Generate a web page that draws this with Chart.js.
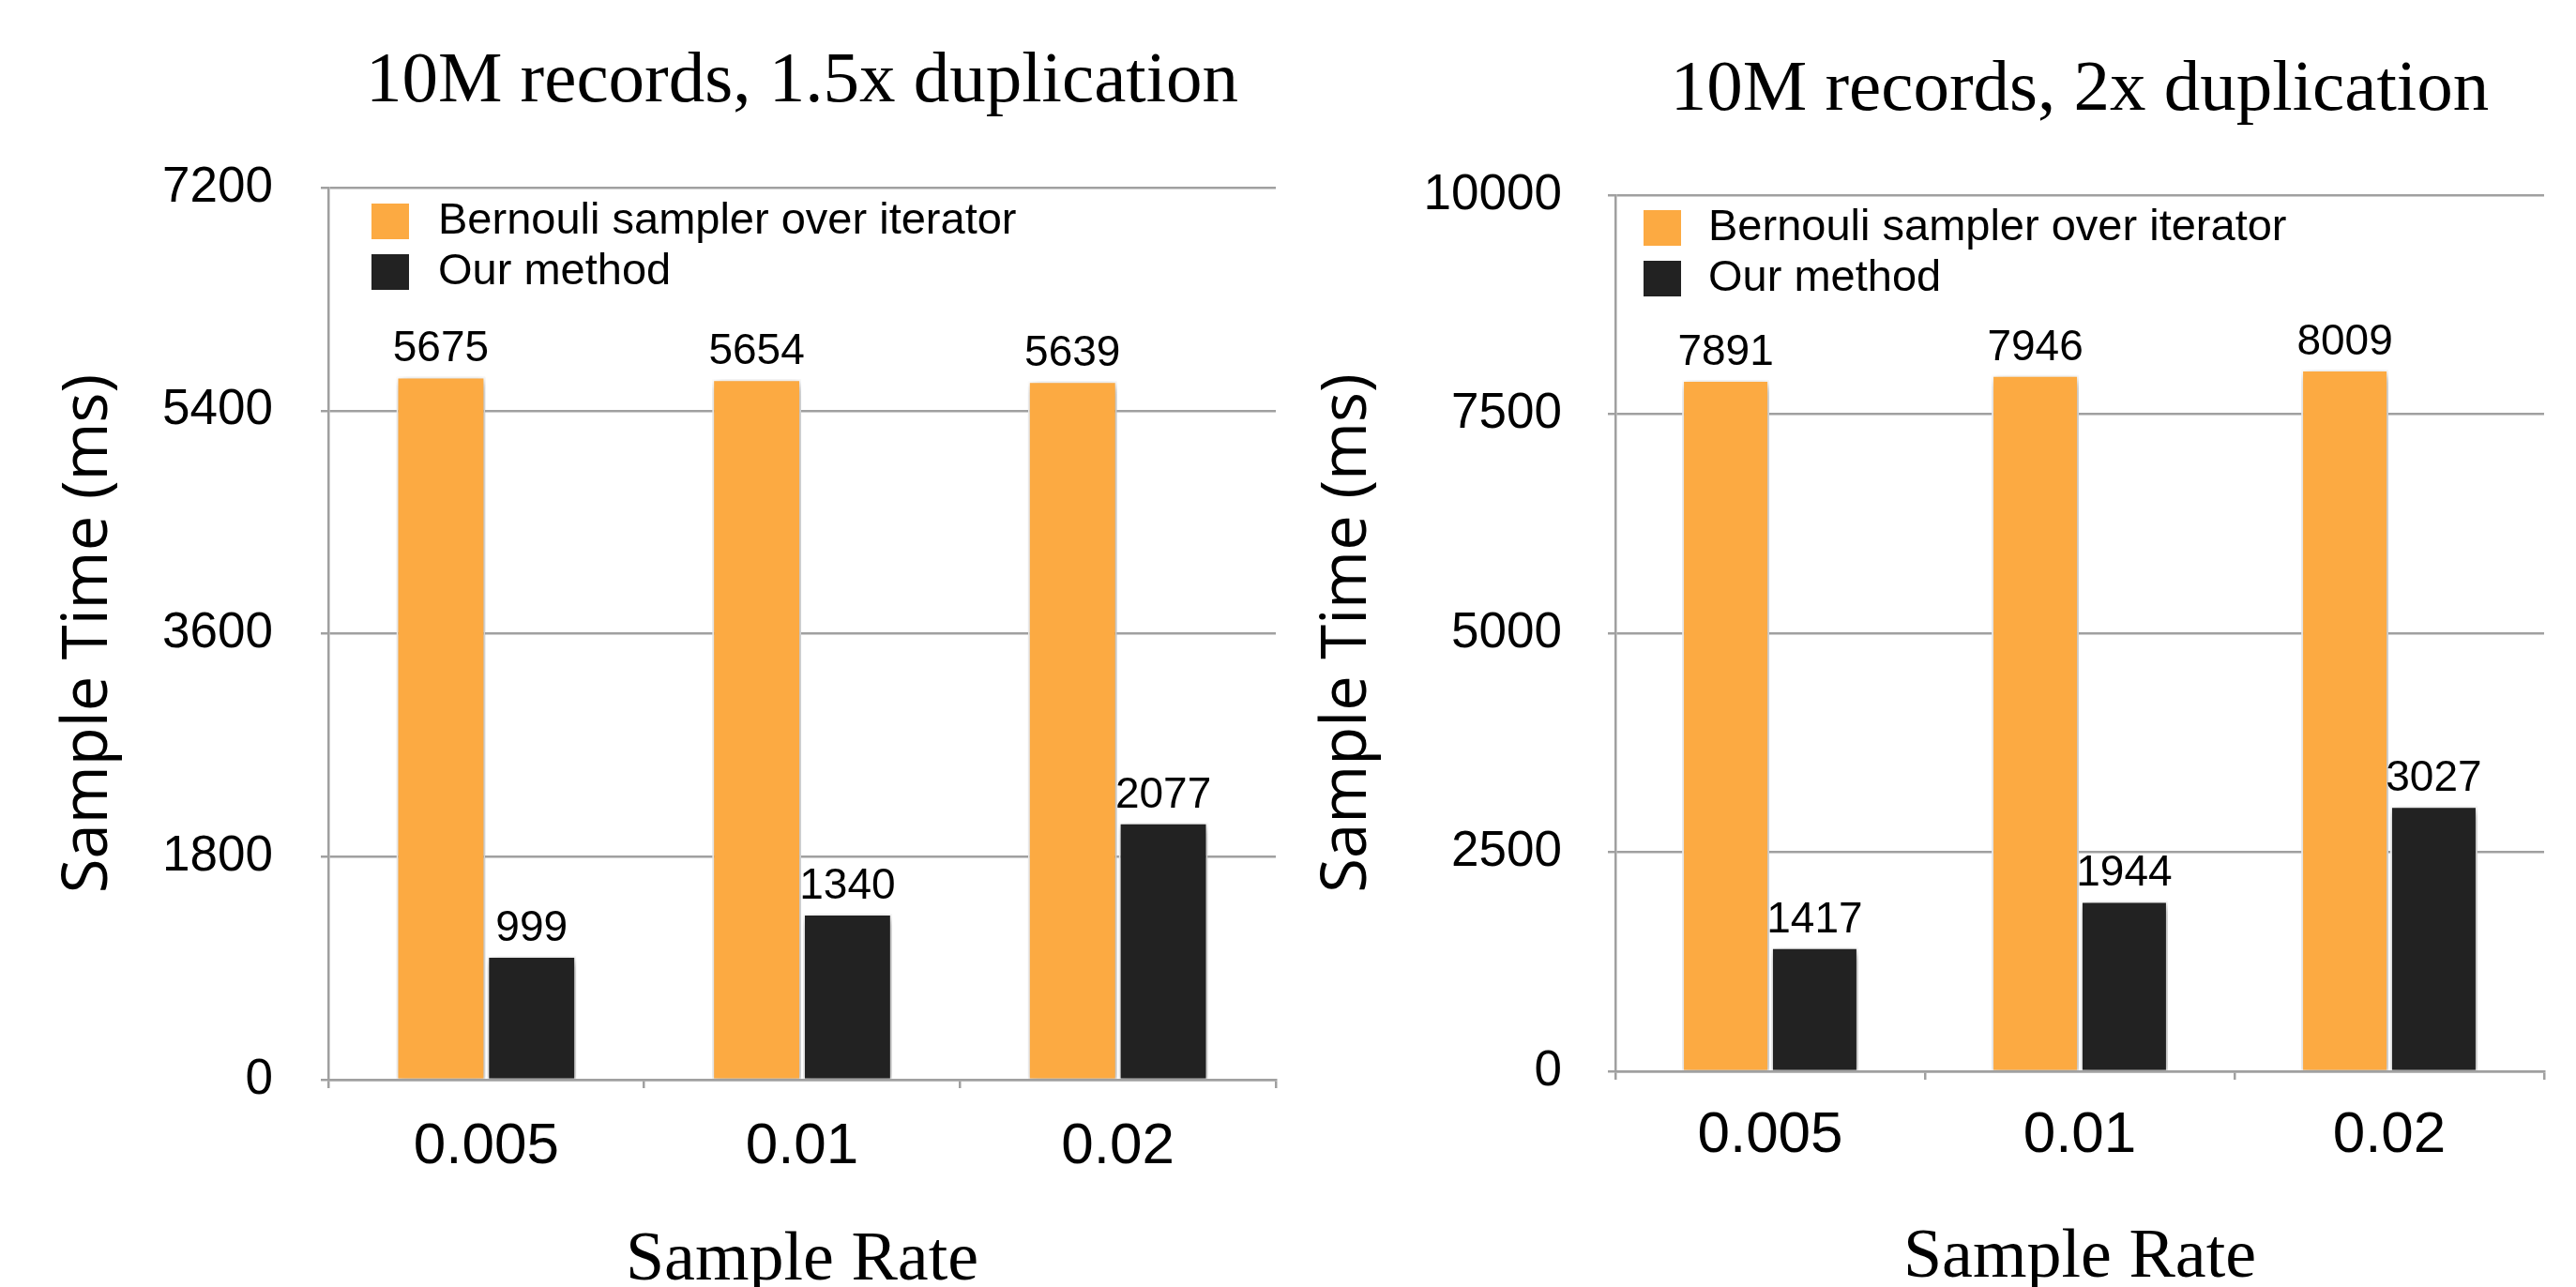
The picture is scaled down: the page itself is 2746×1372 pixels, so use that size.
<!DOCTYPE html>
<html>
<head>
<meta charset="utf-8">
<script src="https://cdn.jsdelivr.net/npm/chart.js@4.4.1/dist/chart.umd.min.js"></script>
<style>
  body { margin: 0; background: #fff; }
  canvas { position: absolute; top: 0; }
  #left { left: 0; }
  #right { left: 1373px; }
</style>
</head>
<body>
<canvas id="left" width="1373" height="1372"></canvas>
<canvas id="right" width="1373" height="1372"></canvas>
<script>
var sampleRates = ['0.005', '0.01', '0.02'];
var seriesNames = ['Bernouli sampler over iterator', 'Our method'];

// 1.5x duplication
var bernoulli15 = [5675, 5654, 5639];
var ours15 = [999, 1340, 2077];
var yTicks15 = [0, 1800, 3600, 5400, 7200];

// 2x duplication
var bernoulli2 = [7891, 7946, 8009];
var ours2 = [1417, 1944, 3027];
var yTicks2 = [0, 2500, 5000, 7500, 10000];

var orange = '#fcaa42';
var dark = '#222222';
var gridGrey = '#a0a0a0';
var sans = '"Liberation Sans", Arial, sans-serif';
var serif = '"Liberation Serif", "Times New Roman", serif';

// value labels, inner legend, chart title and the soft bar shadow
var extras = {
  id: 'extras',
  beforeDatasetsDraw: function (chart) {
    var ctx = chart.ctx;
    ctx.save();
    ctx.shadowColor = 'rgba(0,0,0,0.35)';
    ctx.shadowBlur = 10;
    ctx.shadowOffsetX = 2;
    ctx.shadowOffsetY = 4;
  },
  afterDatasetsDraw: function (chart, args, opts) {
    var ctx = chart.ctx;
    var area = chart.chartArea;
    ctx.restore();
    ctx.save();

    ctx.fillStyle = '#000';
    ctx.font = '46px ' + sans;
    ctx.textAlign = 'center';
    ctx.textBaseline = 'alphabetic';
    chart.data.datasets.forEach(function (ds, i) {
      chart.getDatasetMeta(i).data.forEach(function (bar, j) {
        ctx.fillText(String(ds.data[j]), bar.x, bar.y - 16);
      });
    });

    ctx.font = '47px ' + sans;
    ctx.textAlign = 'left';
    ctx.textBaseline = 'middle';
    chart.data.datasets.forEach(function (ds, i) {
      var cy = area.top + opts.legendTop + i * 54;
      ctx.fillStyle = ds.backgroundColor;
      ctx.fillRect(area.left + opts.boxX, cy - 19, 40, 38);
      ctx.fillStyle = '#000';
      ctx.fillText(ds.label, area.left + opts.textX, cy);
    });

    ctx.font = '77px ' + serif;
    ctx.textAlign = 'center';
    ctx.textBaseline = 'alphabetic';
    ctx.fillText(opts.title, (area.left + area.right) / 2, opts.titleBaseline);
    ctx.restore();
  }
};

function makeChart(id, bern, ours, yTicks, o) {
  return new Chart(document.getElementById(id), {
    type: 'bar',
    data: {
      labels: sampleRates,
      datasets: [
        { label: seriesNames[0], data: bern, backgroundColor: orange,
          borderColor: '#fff', borderWidth: 2 },
        { label: seriesNames[1], data: ours, backgroundColor: dark,
          borderColor: '#fff', borderWidth: 2 }
      ]
    },
    options: {
      responsive: false,
      animation: false,
      categoryPercentage: 0.575,
      barPercentage: 0.98,
      layout: { padding: { left: 0, right: o.padRight, top: o.padTop, bottom: 0 } },
      plugins: {
        legend: { display: false },
        title: { display: false },
        tooltip: { enabled: false },
        extras: o.extras
      },
      scales: {
        x: {
          grid: { drawOnChartArea: false, drawTicks: true, tickLength: 9,
                  color: gridGrey, lineWidth: 2.5, offset: true },
          border: { color: gridGrey, width: 2.5 },
          ticks: { color: '#000', padding: o.xPad,
                   font: { family: sans, size: 62, lineHeight: 1.2 } },
          title: { display: true, text: 'Sample Rate', color: '#000',
                   padding: { top: 0, bottom: o.xTitlePad },
                   font: { family: serif, size: 74, lineHeight: 0.75 } },
          afterFit: function (s) { s.height = o.xHeight; }
        },
        y: {
          min: yTicks[0],
          max: yTicks[yTicks.length - 1],
          afterBuildTicks: function (s) {
            s.ticks = yTicks.map(function (v) { return { value: v }; });
          },
          grid: { color: gridGrey, lineWidth: 2.5, tickLength: 8 },
          border: { color: gridGrey, width: 2.5 },
          ticks: { color: '#000', padding: o.yPad,
                   callback: function (v) { return String(v); },
                   font: { family: '"Liberation Sans Narrow", ' + sans, size: 53 } },
          title: { display: true, text: 'Sample Time (ms)', color: '#000',
                   padding: { top: o.yTitlePad, bottom: 0 },
                   font: { family: '"Open Sans", sans-serif', size: 67, lineHeight: 1 } },
          afterFit: function (s) { s.width = o.yWidth; }
        }
      }
    },
    plugins: [extras]
  });
}

var chart15 = makeChart('left', bernoulli15, ours15, yTicks15, {
  padRight: 13, padTop: 200, xHeight: 221, yWidth: 350,
  xPad: 26, xTitlePad: 0, yPad: 51, yTitlePad: 61,
  extras: { title: '10M records, 1.5x duplication', titleBaseline: 108,
            legendTop: 36, boxX: 46, textX: 117 }
});

var chart2 = makeChart('right', bernoulli2, ours2, yTicks2, {
  padRight: 34, padTop: 208, xHeight: 230, yWidth: 349,
  xPad: 23, xTitlePad: 3, yPad: 49, yTitlePad: 30,
  extras: { title: '10M records, 2x duplication', titleBaseline: 117,
            legendTop: 35, boxX: 30, textX: 99 }
});
</script>
</body>
</html>
